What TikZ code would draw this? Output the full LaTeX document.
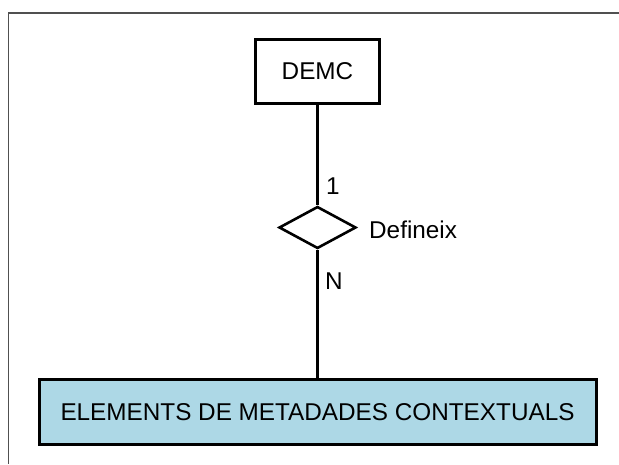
\documentclass[tikz,border=0pt]{standalone}
\usepackage{fontspec}
\setmainfont{Liberation Sans}
\usetikzlibrary{shapes.geometric}

\begin{document}
\begin{tikzpicture}[x=1pt, y=-1pt,
    every node/.style={font=\fontsize{24.3}{29}\selectfont},
    entity/.style={draw=black, line width=3pt, rectangle, inner sep=0pt},
    relation/.style={draw=black, line width=2.6pt, diamond, inner sep=0pt,
                     minimum width=77pt, minimum height=42pt},
    link/.style={line width=3pt}]
    % Colours of the picture
    \definecolor{entityblue}{RGB}{173,216,230}
    \definecolor{framegray}{RGB}{80,80,80}

    \useasboundingbox (0,0) rectangle (619,464);

    % Frame round the diagram
    \draw[framegray, line width=1.5pt] (619,13) -- (8.5,13) -- (8.5,464);

    % Entities
    \node[entity, minimum width=124pt, minimum height=64pt] (demc) at (317.5,71.5) {DEMC};
    \node[entity, fill=entityblue, minimum width=557pt, minimum height=65pt] (elements) at (317.5,412) {ELEMENTS DE METADADES CONTEXTUALS};

    % Relation between them
    \node[relation] (defineix) at (317.5,227.5) {};
    \node[anchor=west, inner sep=0pt] (defineixlabel) at (369,230) {Defineix};

    % Links with their cardinalities
    \draw[link] (demc) -- (defineix);
    \draw[link] (defineix) -- (elements);
    \node[inner sep=0pt] (one) at (333,186) {1};
    \node[inner sep=0pt] (many) at (334,281) {N};

\end{tikzpicture}
\end{document}
